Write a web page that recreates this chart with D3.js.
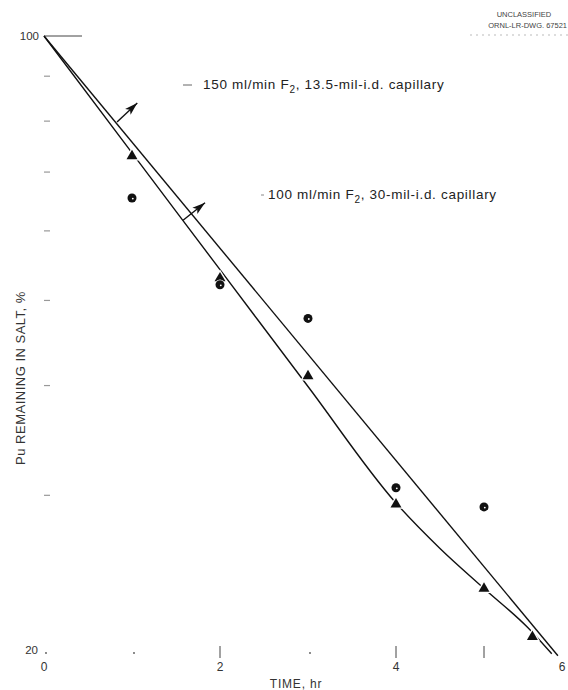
<!DOCTYPE html>
<html>
<head>
<meta charset="utf-8">
<script src="https://cdn.jsdelivr.net/npm/d3@7"></script>
<style>
    body { margin: 0; background: #fff; }
    svg { display: block; font-family: "Liberation Sans", "DejaVu Sans", sans-serif; }
</style>
</head>
<body>
<div class="container"></div>
<script>
var width = 568;
var height = 690;

// triangles: 100 ml/min F2, 30-mil capillary
var triTime = [1, 2, 3, 4, 5, 5.55];
var triPu = [73, 53, 41, 29.3, 23.5, 20.7];

// circles: 150 ml/min F2, 13.5-mil capillary
var circTime = [1, 2, 3, 4, 5];
var circPu = [65.4, 52.1, 47.7, 30.6, 29.1];

// the two drawn curves
var upperTime = [0, 5.84];
var upperPu = [100, 19.7];
var lowerTime = [0, 1, 2, 3, 4, 4.5, 5, 5.5, 5.77];
var lowerPu = [100, 73.6, 54.2, 39.9, 29.4, 26.1, 23.5, 21.2, 19.8];

var yMinorTicks = [90, 80, 70, 60, 50, 40, 30];
var xTickMarks = [2, 4, 5];
var xTickDots = [0, 1, 3];
var xTickLabels = ["0", "2", "4", "6"];
var xTickLabelValues = [0, 2, 4, 6];

var x = d3.scaleLinear().domain([0, 6]).range([44, 572]);
var y = d3.scaleLog().domain([20, 100]).range([650, 36]);

var svg = d3.select('.container')
    .append('svg')
    .attr('width', width)
    .attr('height', height)

var ink = '#111';

// axis marks
svg.append('line')
    .attr('x1', x(0)).attr('x2', x(0) + 38)
    .attr('y1', y(100)).attr('y2', y(100))
    .attr('stroke', '#444').attr('stroke-width', 1)

svg.append('text')
    .attr('x', x(0) - 5).attr('y', y(100) + 4)
    .attr('text-anchor', 'end')
    .attr('font-size', 11.5).attr('fill', '#333')
    .text('100')

svg.append('g')
    .selectAll('line')
    .data(yMinorTicks)
    .enter().append('line')
    .attr('x1', x(0)).attr('x2', x(0) + 6)
    .attr('y1', function (d) { return y(d) }).attr('y2', function (d) { return y(d) })
    .attr('stroke', '#999').attr('stroke-width', 1.2)

svg.append('text')
    .attr('x', x(0) - 6).attr('y', y(20) + 4)
    .attr('text-anchor', 'end')
    .attr('font-size', 11.5).attr('fill', '#333')
    .text('20')

svg.append('g')
    .selectAll('line')
    .data(xTickMarks)
    .enter().append('line')
    .attr('x1', function (d) { return x(d) }).attr('x2', function (d) { return x(d) })
    .attr('y1', y(20) - 4).attr('y2', y(20) + 8)
    .attr('stroke', '#444').attr('stroke-width', 1)

svg.append('g')
    .selectAll('circle')
    .data(xTickDots)
    .enter().append('circle')
    .attr('cx', function (d) { return x(d) + 2 }).attr('cy', y(20) + 3)
    .attr('r', 0.9).attr('fill', '#555')

svg.append('g')
    .selectAll('text')
    .data(xTickLabelValues)
    .enter().append('text')
    .attr('x', function (d) { return Math.min(x(d), 562) }).attr('y', y(20) + 21)
    .attr('text-anchor', 'middle')
    .attr('font-size', 12).attr('fill', '#333')
    .text(function (d, i) { return xTickLabels[i] })

svg.append('text')
    .attr('x', 296).attr('y', 688)
    .attr('text-anchor', 'middle')
    .attr('font-size', 12).attr('letter-spacing', 0.8).attr('fill', '#333')
    .text('TIME, hr')

svg.append('text')
    .attr('transform', 'translate(25,378) rotate(-90)')
    .attr('text-anchor', 'middle')
    .attr('font-size', 13).attr('letter-spacing', 0.5).attr('fill', '#333')
    .text('Pu REMAINING IN SALT, %')

// stamp top right
svg.append('text')
    .attr('x', 524).attr('y', 17)
    .attr('text-anchor', 'middle')
    .attr('font-size', 7.5).attr('fill', '#444')
    .text('UNCLASSIFIED')
svg.append('text')
    .attr('x', 567).attr('y', 28)
    .attr('text-anchor', 'end')
    .attr('font-size', 7.5).attr('fill', '#444')
    .text('ORNL-LR-DWG. 67521')
svg.append('line')
    .attr('x1', 470).attr('x2', 568).attr('y1', 35).attr('y2', 35)
    .attr('stroke', '#bbb').attr('stroke-dasharray', '2,4')

// curves
var line = d3.line()
    .x(function (d) { return x(d[0]) })
    .y(function (d) { return y(d[1]) })
    .curve(d3.curveMonotoneX)

var upperData = upperTime.map(function (t, i) { return [t, upperPu[i]] });
var lowerData = lowerTime.map(function (t, i) { return [t, lowerPu[i]] });

svg.append('path')
    .datum(upperData)
    .attr('d', line)
    .attr('fill', 'none').attr('stroke', ink).attr('stroke-width', 1.4)

svg.append('path')
    .datum(lowerData)
    .attr('d', line)
    .attr('fill', 'none').attr('stroke', ink).attr('stroke-width', 1.4)

// markers (white halo leaves a gap in the line)
var triData = triTime.map(function (t, i) { return [t, triPu[i]] });
var circData = circTime.map(function (t, i) { return [t, circPu[i]] });

svg.append('g')
    .selectAll('path')
    .data(triData)
    .enter().append('path')
    .attr('d', d3.symbol().type(d3.symbolTriangle).size(52))
    .attr('transform', function (d) { return 'translate(' + x(d[0]) + ',' + y(d[1]) + ')' })
    .attr('fill', ink)
    .attr('stroke', '#fff').attr('stroke-width', 2.5)
    .attr('paint-order', 'stroke')

var circG = svg.append('g')
    .selectAll('g')
    .data(circData)
    .enter().append('g')
    .attr('transform', function (d) { return 'translate(' + x(d[0]) + ',' + y(d[1]) + ')' })

circG.append('circle')
    .attr('r', 4.5)
    .attr('fill', ink)
    .attr('stroke', '#fff').attr('stroke-width', 1.5)
    .attr('paint-order', 'stroke')
circG.append('circle')
    .attr('r', 0.9).attr('cx', 0.8).attr('cy', 0.6)
    .attr('fill', '#fff')

// leader arrows pointing at the curves
var arrows = [
    { from: [0.83, 79.8], to: [1.06, 83.9] },
    { from: [1.58, 61.7], to: [1.83, 64.6] }
];

arrows.forEach(function (a) {
    var x1 = x(a.from[0]), y1 = y(a.from[1]);
    var x2 = x(a.to[0]), y2 = y(a.to[1]);
    svg.append('line')
        .attr('x1', x1).attr('y1', y1).attr('x2', x2).attr('y2', y2)
        .attr('stroke', ink).attr('stroke-width', 1.4)
    var ang = Math.atan2(y2 - y1, x2 - x1);
    var len = 13, half = 4;
    var bx = x2 - len * Math.cos(ang), by = y2 - len * Math.sin(ang);
    var px = -Math.sin(ang) * half, py = Math.cos(ang) * half;
    svg.append('path')
        .attr('d', 'M' + x2 + ',' + y2 + 'L' + (bx + px) + ',' + (by + py) +
            'L' + (bx + 3 * Math.cos(ang)) + ',' + (by + 3 * Math.sin(ang)) +
            'L' + (bx - px) + ',' + (by - py) + 'Z')
        .attr('fill', ink)
});

// curve labels
function curveLabel(lx, ly, rate, capillary) {
    var t = svg.append('text')
        .attr('x', lx).attr('y', ly)
        .attr('font-size', 13.5).attr('letter-spacing', 0.7).attr('fill', '#222')
    t.append('tspan').text(rate + ' ml/min F')
    t.append('tspan').attr('font-size', 10).attr('dy', 4).text('2')
    t.append('tspan').attr('dy', -4).text(', ' + capillary + '-mil-i.d. capillary')
}

svg.append('line')
    .attr('x1', 183).attr('x2', 192).attr('y1', 85).attr('y2', 85)
    .attr('stroke', '#666').attr('stroke-width', 1)
curveLabel(203, 89, '150', '13.5');

svg.append('line')
    .attr('x1', 261).attr('x2', 264).attr('y1', 195).attr('y2', 195)
    .attr('stroke', '#888').attr('stroke-width', 1)
curveLabel(268, 199, '100', '30');
</script>
</body>
</html>
